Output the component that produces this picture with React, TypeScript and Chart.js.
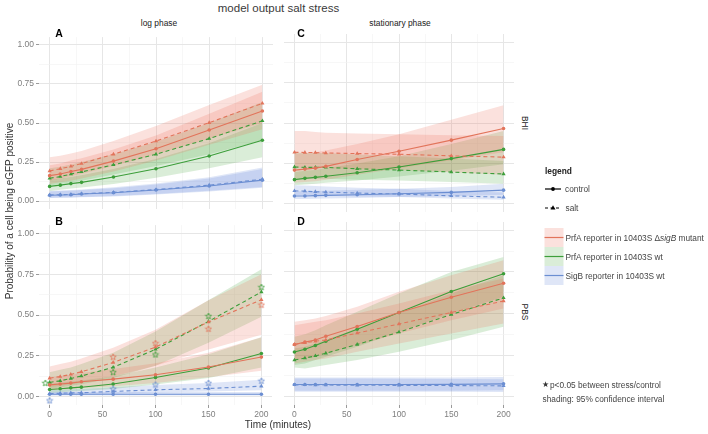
import React, { useEffect, useRef } from 'react';
import { Chart, registerables } from 'chart.js';

Chart.register(...registerables);

// ---------- data ----------
const TIME = [0, 10, 20, 30, 60, 100, 150, 200];
const X_TICKS = [0, 25, 50, 75, 100, 125, 150, 175, 200];
const X_LABELS = [0, 50, 100, 150, 200];
const Y_TICKS = [0, 0.125, 0.25, 0.375, 0.5, 0.625, 0.75, 0.875, 1];
const Y_LABELS = [0, 0.25, 0.5, 0.75, 1];

// Panel A: log phase, BHI
const A_mut_ctrl = [0.163, 0.173, 0.189, 0.203, 0.256, 0.335, 0.455, 0.577];
const A_mut_ctrl_lo = [0.11, 0.12, 0.13, 0.145, 0.19, 0.26, 0.36, 0.46];
const A_mut_ctrl_hi = [0.23, 0.24, 0.26, 0.275, 0.33, 0.42, 0.56, 0.7];
const A_mut_salt = [0.193, 0.207, 0.222, 0.24, 0.3, 0.384, 0.502, 0.626];
const A_mut_salt_lo = [0.13, 0.145, 0.16, 0.175, 0.225, 0.3, 0.4, 0.5];
const A_mut_salt_hi = [0.28, 0.29, 0.305, 0.32, 0.385, 0.48, 0.615, 0.745];
const A_wt_ctrl = [0.094, 0.102, 0.112, 0.12, 0.154, 0.207, 0.289, 0.39];
const A_wt_ctrl_lo = [0.065, 0.072, 0.08, 0.087, 0.11, 0.15, 0.21, 0.28];
const A_wt_ctrl_hi = [0.135, 0.145, 0.155, 0.165, 0.205, 0.27, 0.37, 0.5];
const A_wt_salt = [0.146, 0.157, 0.173, 0.187, 0.232, 0.3, 0.4, 0.514];
const A_wt_salt_lo = [0.1, 0.11, 0.12, 0.13, 0.17, 0.225, 0.3, 0.39];
const A_wt_salt_hi = [0.21, 0.22, 0.235, 0.25, 0.3, 0.38, 0.5, 0.635];
const A_sig_ctrl = [0.037, 0.039, 0.041, 0.045, 0.053, 0.071, 0.097, 0.134];
const A_sig_ctrl_lo = [0.02, 0.021, 0.022, 0.024, 0.03, 0.042, 0.062, 0.085];
const A_sig_ctrl_hi = [0.062, 0.064, 0.067, 0.071, 0.083, 0.107, 0.145, 0.205];
const A_sig_salt = [0.039, 0.041, 0.043, 0.047, 0.056, 0.074, 0.102, 0.14];
const A_sig_salt_lo = [0.022, 0.023, 0.024, 0.026, 0.033, 0.046, 0.066, 0.09];
const A_sig_salt_hi = [0.066, 0.068, 0.071, 0.075, 0.088, 0.113, 0.152, 0.215];

// Panel C: stationary phase, BHI
const C_mut_ctrl = [0.209, 0.215, 0.221, 0.232, 0.274, 0.325, 0.394, 0.466];
const C_mut_ctrl_lo = [0.13, 0.135, 0.14, 0.15, 0.18, 0.22, 0.27, 0.32];
const C_mut_ctrl_hi = [0.31, 0.315, 0.32, 0.33, 0.37, 0.43, 0.52, 0.61];
const C_mut_salt = [0.319, 0.318, 0.317, 0.315, 0.311, 0.307, 0.297, 0.289];
const C_mut_salt_lo = [0.22, 0.22, 0.22, 0.22, 0.215, 0.21, 0.195, 0.18];
const C_mut_salt_hi = [0.45, 0.45, 0.445, 0.44, 0.435, 0.43, 0.425, 0.42];
const C_wt_ctrl = [0.15, 0.158, 0.164, 0.171, 0.193, 0.228, 0.28, 0.337];
const C_wt_ctrl_lo = [0.115, 0.12, 0.125, 0.13, 0.145, 0.17, 0.205, 0.245];
const C_wt_ctrl_hi = [0.195, 0.205, 0.21, 0.22, 0.25, 0.295, 0.37, 0.45];
const C_wt_salt = [0.228, 0.226, 0.226, 0.226, 0.217, 0.209, 0.197, 0.185];
const C_wt_salt_lo = [0.155, 0.155, 0.155, 0.155, 0.15, 0.145, 0.135, 0.125];
const C_wt_salt_hi = [0.32, 0.315, 0.315, 0.315, 0.305, 0.295, 0.28, 0.265];
const C_sig_ctrl = [0.049, 0.049, 0.051, 0.053, 0.057, 0.063, 0.071, 0.085];
const C_sig_ctrl_lo = [0.03, 0.03, 0.032, 0.033, 0.037, 0.042, 0.048, 0.056];
const C_sig_ctrl_hi = [0.078, 0.078, 0.08, 0.082, 0.087, 0.093, 0.105, 0.125];
const C_sig_salt = [0.081, 0.079, 0.075, 0.073, 0.067, 0.061, 0.05, 0.041];
const C_sig_salt_lo = [0.055, 0.054, 0.052, 0.05, 0.046, 0.042, 0.034, 0.025];
const C_sig_salt_hi = [0.115, 0.113, 0.11, 0.108, 0.1, 0.093, 0.08, 0.07];

// Panel B: log phase, PBS
const B_mut_ctrl = [0.073, 0.078, 0.084, 0.092, 0.108, 0.135, 0.182, 0.243];
const B_mut_ctrl_lo = [0.04, 0.044, 0.048, 0.053, 0.065, 0.085, 0.12, 0.16];
const B_mut_ctrl_hi = [0.12, 0.127, 0.135, 0.145, 0.17, 0.205, 0.27, 0.365];
const B_mut_salt = [0.114, 0.124, 0.137, 0.153, 0.21, 0.304, 0.457, 0.594];
const B_mut_salt_lo = [0.06, 0.068, 0.077, 0.088, 0.125, 0.19, 0.29, 0.38];
const B_mut_salt_hi = [0.185, 0.2, 0.215, 0.235, 0.3, 0.41, 0.59, 0.75];
const B_wt_ctrl = [0.045, 0.049, 0.055, 0.059, 0.078, 0.118, 0.176, 0.265];
const B_wt_ctrl_lo = [0.025, 0.028, 0.032, 0.035, 0.048, 0.075, 0.115, 0.18];
const B_wt_ctrl_hi = [0.08, 0.086, 0.094, 0.1, 0.125, 0.18, 0.26, 0.365];
const B_wt_salt = [0.088, 0.098, 0.112, 0.127, 0.18, 0.29, 0.461, 0.641];
const B_wt_salt_lo = [0.05, 0.057, 0.067, 0.077, 0.115, 0.19, 0.33, 0.49];
const B_wt_salt_hi = [0.15, 0.165, 0.18, 0.2, 0.27, 0.4, 0.59, 0.78];
const B_sig_ctrl = [0.016, 0.016, 0.016, 0.016, 0.016, 0.016, 0.016, 0.016];
const B_sig_ctrl_lo = [0.008, 0.008, 0.008, 0.008, 0.008, 0.008, 0.008, 0.008];
const B_sig_ctrl_hi = [0.03, 0.03, 0.03, 0.03, 0.03, 0.03, 0.03, 0.03];
const B_sig_salt = [0.02, 0.022, 0.024, 0.025, 0.033, 0.043, 0.051, 0.065];
const B_sig_salt_lo = [0.01, 0.011, 0.012, 0.013, 0.019, 0.026, 0.032, 0.04];
const B_sig_salt_hi = [0.04, 0.043, 0.046, 0.048, 0.058, 0.072, 0.085, 0.105];

// significance stars (panel B)
const B_star_mut_x = [60, 100, 150, 200];
const B_star_mut_y = [0.245, 0.328, 0.416, 0.563];
const B_star_wt_x = [-4, 60, 100, 150, 200];
const B_star_wt_y = [0.085, 0.151, 0.259, 0.494, 0.671];
const B_star_sig_x = [0, 60, 100, 150, 200];
const B_star_sig_y = [-0.022, 0.049, 0.075, 0.085, 0.098];

// Panel D: stationary phase, PBS
const D_mut_ctrl = [0.314, 0.328, 0.341, 0.363, 0.422, 0.506, 0.598, 0.682];
const D_mut_ctrl_lo = [0.22, 0.23, 0.24, 0.26, 0.31, 0.38, 0.46, 0.53];
const D_mut_ctrl_hi = [0.45, 0.46, 0.47, 0.485, 0.54, 0.63, 0.73, 0.82];
const D_mut_salt = [0.314, 0.324, 0.333, 0.341, 0.382, 0.437, 0.506, 0.575];
const D_mut_salt_lo = [0.2, 0.21, 0.22, 0.23, 0.27, 0.32, 0.38, 0.44];
const D_mut_salt_hi = [0.43, 0.44, 0.45, 0.46, 0.5, 0.56, 0.64, 0.71];
const D_wt_ctrl = [0.269, 0.285, 0.308, 0.333, 0.406, 0.506, 0.632, 0.739];
const D_wt_ctrl_lo = [0.19, 0.2, 0.22, 0.24, 0.3, 0.39, 0.5, 0.6];
const D_wt_ctrl_hi = [0.36, 0.375, 0.4, 0.43, 0.51, 0.62, 0.75, 0.84];
const D_wt_salt = [0.22, 0.232, 0.245, 0.261, 0.314, 0.388, 0.494, 0.594];
const D_wt_salt_lo = [0.175, 0.17, 0.18, 0.19, 0.22, 0.27, 0.34, 0.42];
const D_wt_salt_hi = [0.29, 0.3, 0.32, 0.34, 0.41, 0.5, 0.62, 0.73];
const D_sig_ctrl = [0.073, 0.073, 0.073, 0.073, 0.073, 0.073, 0.074, 0.077];
const D_sig_ctrl_lo = [0.035, 0.035, 0.035, 0.035, 0.035, 0.035, 0.036, 0.038];
const D_sig_ctrl_hi = [0.115, 0.115, 0.115, 0.115, 0.115, 0.115, 0.116, 0.118];
const D_sig_salt = [0.071, 0.071, 0.07, 0.07, 0.069, 0.068, 0.067, 0.065];
const D_sig_salt_lo = [0.03, 0.03, 0.03, 0.03, 0.03, 0.03, 0.029, 0.028];
const D_sig_salt_hi = [0.11, 0.11, 0.11, 0.11, 0.109, 0.108, 0.107, 0.105];

// ---------- styles ----------
const FONT = '"Liberation Sans", Arial, Helvetica, sans-serif';
const RED = '#E2745B';
const GREEN = '#3C9E3A';
const BLUE = '#6B8ED2';
const RED_FILL = 'rgba(236,104,84,0.2)';
const GREEN_FILL = 'rgba(70,165,60,0.2)';
const BLUE_FILL = 'rgba(95,130,215,0.2)';
const GRID_MAJOR = '#E6E6E6';
const GRID_MINOR = '#F2F2F2';

type Series = { mid: number[]; lo: number[]; hi: number[]; color: string; fill: string; salt: boolean };
type Stars = { xs: number[]; ys: number[]; color: string };

function grp(mid: number[], lo: number[], hi: number[], color: string, fill: string, salt: boolean): Series {
  return { mid, lo, hi, color, fill, salt };
}

const PANELS = [
  {
    key: 'A', left: 0, top: 30, width: 277, height: 186, showX: false, showY: true,
    series: [
      grp(A_mut_ctrl, A_mut_ctrl_lo, A_mut_ctrl_hi, RED, RED_FILL, false),
      grp(A_mut_salt, A_mut_salt_lo, A_mut_salt_hi, RED, RED_FILL, true),
      grp(A_wt_ctrl, A_wt_ctrl_lo, A_wt_ctrl_hi, GREEN, GREEN_FILL, false),
      grp(A_wt_salt, A_wt_salt_lo, A_wt_salt_hi, GREEN, GREEN_FILL, true),
      grp(A_sig_ctrl, A_sig_ctrl_lo, A_sig_ctrl_hi, BLUE, BLUE_FILL, false),
      grp(A_sig_salt, A_sig_salt_lo, A_sig_salt_hi, BLUE, BLUE_FILL, true),
    ],
    stars: [] as Stars[],
  },
  {
    key: 'C', left: 280, top: 30, width: 238, height: 186, showX: false, showY: false,
    series: [
      grp(C_mut_ctrl, C_mut_ctrl_lo, C_mut_ctrl_hi, RED, RED_FILL, false),
      grp(C_mut_salt, C_mut_salt_lo, C_mut_salt_hi, RED, RED_FILL, true),
      grp(C_wt_ctrl, C_wt_ctrl_lo, C_wt_ctrl_hi, GREEN, GREEN_FILL, false),
      grp(C_wt_salt, C_wt_salt_lo, C_wt_salt_hi, GREEN, GREEN_FILL, true),
      grp(C_sig_ctrl, C_sig_ctrl_lo, C_sig_ctrl_hi, BLUE, BLUE_FILL, false),
      grp(C_sig_salt, C_sig_salt_lo, C_sig_salt_hi, BLUE, BLUE_FILL, true),
    ],
    stars: [] as Stars[],
  },
  {
    key: 'B', left: 0, top: 218, width: 277, height: 209, showX: true, showY: true,
    series: [
      grp(B_mut_ctrl, B_mut_ctrl_lo, B_mut_ctrl_hi, RED, RED_FILL, false),
      grp(B_mut_salt, B_mut_salt_lo, B_mut_salt_hi, RED, RED_FILL, true),
      grp(B_wt_ctrl, B_wt_ctrl_lo, B_wt_ctrl_hi, GREEN, GREEN_FILL, false),
      grp(B_wt_salt, B_wt_salt_lo, B_wt_salt_hi, GREEN, GREEN_FILL, true),
      grp(B_sig_ctrl, B_sig_ctrl_lo, B_sig_ctrl_hi, BLUE, BLUE_FILL, false),
      grp(B_sig_salt, B_sig_salt_lo, B_sig_salt_hi, BLUE, BLUE_FILL, true),
    ],
    stars: [
      { xs: B_star_mut_x, ys: B_star_mut_y, color: RED },
      { xs: B_star_wt_x, ys: B_star_wt_y, color: GREEN },
      { xs: B_star_sig_x, ys: B_star_sig_y, color: BLUE },
    ] as Stars[],
  },
  {
    key: 'D', left: 280, top: 218, width: 238, height: 209, showX: true, showY: false,
    series: [
      grp(D_mut_ctrl, D_mut_ctrl_lo, D_mut_ctrl_hi, RED, RED_FILL, false),
      grp(D_mut_salt, D_mut_salt_lo, D_mut_salt_hi, RED, RED_FILL, true),
      grp(D_wt_ctrl, D_wt_ctrl_lo, D_wt_ctrl_hi, GREEN, GREEN_FILL, false),
      grp(D_wt_salt, D_wt_salt_lo, D_wt_salt_hi, GREEN, GREEN_FILL, true),
      grp(D_sig_ctrl, D_sig_ctrl_lo, D_sig_ctrl_hi, BLUE, BLUE_FILL, false),
      grp(D_sig_salt, D_sig_salt_lo, D_sig_salt_hi, BLUE, BLUE_FILL, true),
    ],
    stars: [] as Stars[],
  },
];

function makeStar(color: string): HTMLCanvasElement {
  const c = document.createElement('canvas');
  c.width = 8;
  c.height = 8;
  const g = c.getContext('2d')!;
  g.strokeStyle = color;
  g.lineWidth = 0.8;
  g.beginPath();
  for (let i = 0; i < 10; i++) {
    const r = i % 2 === 0 ? 3.3 : 1.4;
    const a = -Math.PI / 2 + (i * Math.PI) / 5;
    const x = 4 + r * Math.cos(a);
    const y = 4.3 + r * Math.sin(a);
    if (i === 0) g.moveTo(x, y);
    else g.lineTo(x, y);
  }
  g.closePath();
  g.stroke();
  return c;
}

const isMajorX = (v: number) => X_LABELS.includes(v);
const isMajorY = (v: number) => Y_LABELS.some((m) => Math.abs(m - v) < 1e-6);

function PanelChart({ p }: { p: (typeof PANELS)[number] }) {
  const ref = useRef<HTMLCanvasElement>(null);
  useEffect(() => {
    if (!ref.current) return;
    const pts = (arr: number[]) => TIME.map((t, i) => ({ x: t, y: arr[i] }));
    const datasets: any[] = [];
    p.series.forEach((s) => {
      const i = datasets.length;
      datasets.push({
        data: pts(s.lo), borderWidth: 0, borderColor: 'rgba(0,0,0,0)', pointRadius: 0,
        fill: false, order: 5,
      });
      datasets.push({
        data: pts(s.hi), borderWidth: 0, borderColor: 'rgba(0,0,0,0)', pointRadius: 0,
        fill: i, backgroundColor: s.fill, order: 5,
      });
    });
    p.series.forEach((s) => {
      datasets.push({
        data: pts(s.mid),
        borderColor: s.color,
        borderWidth: 1.1,
        borderDash: s.salt ? [4, 3] : [],
        pointStyle: s.salt ? 'triangle' : 'circle',
        pointRadius: s.salt ? 2.4 : 1.8,
        pointBackgroundColor: s.color,
        pointBorderWidth: 0,
        fill: false,
        tension: 0,
        order: 1,
      });
    });
    p.stars.forEach((st) => {
      const img = makeStar(st.color);
      datasets.push({
        data: st.xs.map((x, i) => ({ x, y: st.ys[i] })),
        showLine: false,
        pointStyle: img,
        pointRadius: 4,
        fill: false,
        order: 0,
      });
    });

    const tickFont = { size: 8.5, family: FONT };
    const chart = new Chart(ref.current, {
      type: 'line',
      data: { datasets },
      options: {
        responsive: false,
        maintainAspectRatio: false,
        animation: false,
        events: [],
        layout: { padding: 0 },
        plugins: { legend: { display: false }, tooltip: { enabled: false } },
        scales: {
          x: {
            type: 'linear',
            min: -10,
            max: 210,
            afterBuildTicks: (s: any) => { s.ticks = X_TICKS.map((v) => ({ value: v })); },
            afterFit: (s: any) => { s.height = p.showX ? 22 : 0; },
            border: { display: false },
            grid: {
              color: (c: any) => (c.tick && isMajorX(c.tick.value) ? GRID_MAJOR : GRID_MINOR),
              lineWidth: (c: any) => (c.tick && isMajorX(c.tick.value) ? 1 : 0.6),
              drawTicks: p.showX,
              tickLength: 3,
              tickColor: (c: any) => (c.tick && isMajorX(c.tick.value) ? '#9A9A9A' : 'rgba(0,0,0,0)'),
              tickWidth: 1,
            },
            ticks: {
              display: p.showX,
              autoSkip: false,
              maxRotation: 0,
              padding: 2,
              color: '#7F7F7F',
              font: tickFont,
              callback: (v: any) => (isMajorX(Number(v)) ? String(v) : ''),
            },
          },
          y: {
            type: 'linear',
            min: -0.05,
            max: 1.05,
            afterBuildTicks: (s: any) => { s.ticks = Y_TICKS.map((v) => ({ value: v })); },
            afterFit: (s: any) => { s.width = p.showY ? 39 : 0; },
            border: { display: false },
            grid: {
              color: (c: any) => (c.tick && isMajorY(c.tick.value) ? GRID_MAJOR : GRID_MINOR),
              lineWidth: (c: any) => (c.tick && isMajorY(c.tick.value) ? 1 : 0.6),
              drawTicks: p.showY,
              tickLength: 3,
              tickColor: (c: any) => (c.tick && isMajorY(c.tick.value) ? '#9A9A9A' : 'rgba(0,0,0,0)'),
              tickWidth: 1,
            },
            ticks: {
              display: p.showY,
              autoSkip: false,
              padding: 2,
              color: '#7F7F7F',
              font: tickFont,
              callback: (v: any) => (isMajorY(Number(v)) ? Number(v).toFixed(2) : ''),
            },
          },
        },
      } as any,
    });
    return () => chart.destroy();
  }, [p]);
  return (
    <canvas
      ref={ref}
      width={p.width}
      height={p.height}
      style={{ position: 'absolute', left: p.left, top: p.top, width: p.width, height: p.height }}
    />
  );
}

function Txt(props: {
  x: number; y: number; size: number; color?: string; bold?: boolean;
  align?: 'left' | 'center' | 'right'; rotate?: number; children: React.ReactNode;
}) {
  const { x, y, size, color = '#333', bold = false, align = 'left', rotate = 0, children } = props;
  const tx = align === 'center' ? '-50%' : align === 'right' ? '-100%' : '0';
  return (
    <div
      style={{
        position: 'absolute', left: x, top: y,
        transform: `translate(${tx}, -50%) rotate(${rotate}deg)`,
        fontFamily: FONT, fontSize: size, color, fontWeight: bold ? 'bold' : 'normal',
        whiteSpace: 'nowrap', lineHeight: 1,
      }}
    >
      {children}
    </div>
  );
}

function LegendKeys() {
  return (
    <svg width={708} height={434} style={{ position: 'absolute', left: 0, top: 0, pointerEvents: 'none' }}>
      <line x1={545} x2={561} y1={189} y2={189} stroke="#000" strokeWidth={1.2} />
      <circle cx={553} cy={189} r={1.9} fill="#000" />
      <line x1={545} x2={561} y1={208} y2={208} stroke="#000" strokeWidth={1.2} strokeDasharray="3 2.5" />
      <polygon points="553,205.3 555.5,209.6 550.5,209.6" fill="#000" />
      <rect x={544.5} y={228} width={19} height={19} fill={RED_FILL} />
      <line x1={544.5} x2={563.5} y1={237.5} y2={237.5} stroke={RED} strokeWidth={1.2} />
      <rect x={544.5} y={247} width={19} height={19} fill={GREEN_FILL} />
      <line x1={544.5} x2={563.5} y1={256.5} y2={256.5} stroke={GREEN} strokeWidth={1.2} />
      <rect x={544.5} y={266} width={19} height={19} fill={BLUE_FILL} />
      <line x1={544.5} x2={563.5} y1={275.5} y2={275.5} stroke={BLUE} strokeWidth={1.2} />
    </svg>
  );
}

export default function App() {
  return (
    <div style={{ position: 'fixed', left: 0, top: 0, width: 708, height: 434, background: '#fff', overflow: 'hidden' }}>
      {PANELS.map((p) => (
        <PanelChart key={p.key} p={p} />
      ))}
      <Txt x={278.5} y={9} size={11.5} color="#3a3a3a" align="center">model output salt stress</Txt>
      <Txt x={159} y={23} size={8.4} color="#1a1a1a" align="center">log phase</Txt>
      <Txt x={400} y={23} size={8.4} color="#1a1a1a" align="center">stationary phase</Txt>
      <Txt x={525} y={123} size={8.4} color="#1a1a1a" align="center" rotate={90}>BHI</Txt>
      <Txt x={525} y={311.5} size={8.4} color="#1a1a1a" align="center" rotate={90}>PBS</Txt>
      <Txt x={59} y={32.5} size={10.5} color="#000" bold align="center">A</Txt>
      <Txt x={301} y={32.5} size={10.5} color="#000" bold align="center">C</Txt>
      <Txt x={59} y={221} size={10.5} color="#000" bold align="center">B</Txt>
      <Txt x={301} y={221} size={10.5} color="#000" bold align="center">D</Txt>
      <Txt x={278} y={425} size={10} color="#333" align="center">Time (minutes)</Txt>
      <Txt x={10} y={211} size={10} color="#333" align="center" rotate={-90}>Probability of a cell being eGFP positive</Txt>
      <LegendKeys />
      <Txt x={545} y={171} size={8.4} color="#222" bold>legend</Txt>
      <Txt x={565} y={189} size={8.3} color="#444">control</Txt>
      <Txt x={565.5} y={208} size={8.3} color="#444">salt</Txt>
      <Txt x={565.5} y={237.5} size={8.3} color="#444">
        PrfA reporter in 10403S Δ<i>sigB</i> mutant
      </Txt>
      <Txt x={565.5} y={256.5} size={8.3} color="#444">PrfA reporter in 10403S wt</Txt>
      <Txt x={565.5} y={275.5} size={8.3} color="#444">SigB reporter in 10403S wt</Txt>
      <Txt x={541.5} y={384.5} size={7.5} color="#333">★</Txt>
      <Txt x={550} y={384.5} size={8.3} color="#444">p&lt;0.05 between stress/control</Txt>
      <Txt x={542.5} y={399} size={8.3} color="#444">shading: 95% confidence interval</Txt>
    </div>
  );
}
